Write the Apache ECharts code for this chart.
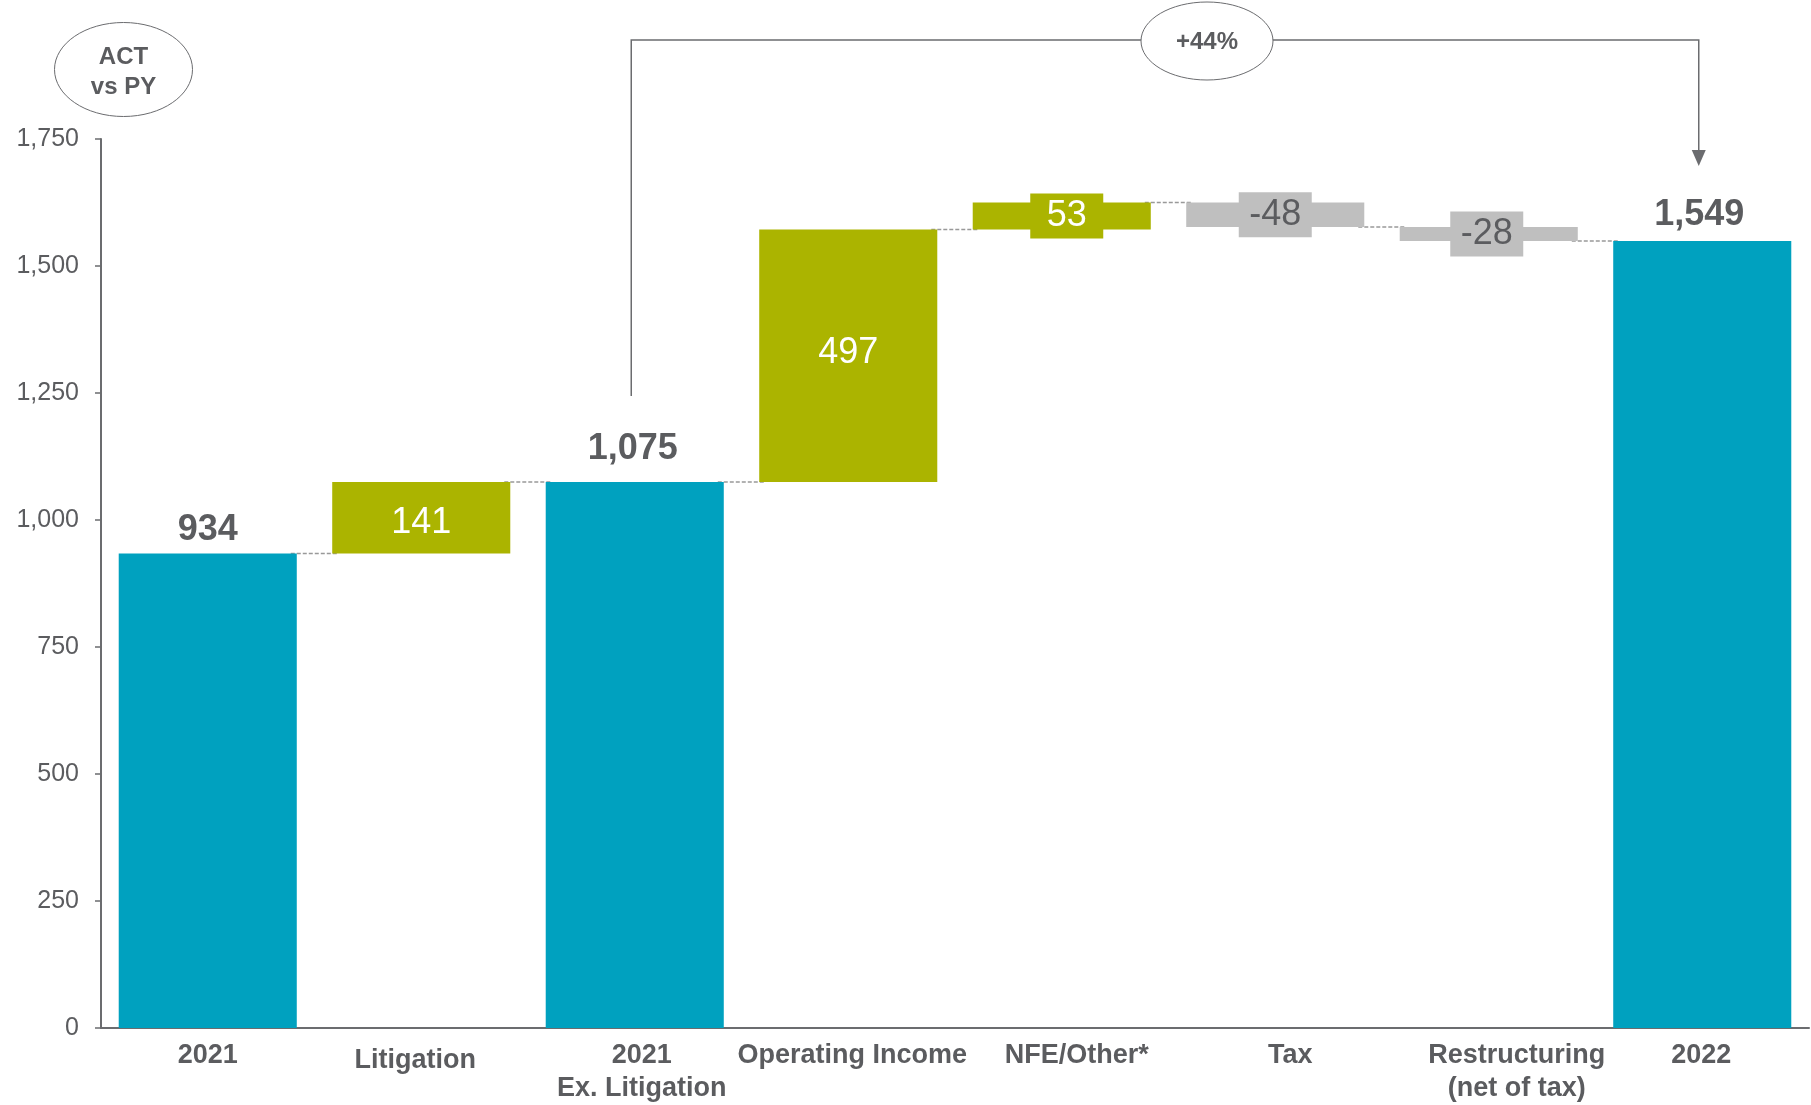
<!DOCTYPE html>
<html>
<head>
<meta charset="utf-8">
<script src="https://cdn.jsdelivr.net/npm/echarts@6/dist/echarts.min.js"></script>
<style>
html,body{margin:0;padding:0;background:#fff;}
#chart{width:1811px;height:1105px;}
</style>
</head>
<body>
<div id="chart"></div>
<script>
// ---- data ----
const categories = ['2021', 'Litigation', '2021\nEx. Litigation', 'Operating Income', 'NFE/Other*', 'Tax', 'Restructuring\n(net of tax)', '2022'];
const values = [934, 141, 1075, 497, 53, -48, -28, 1549];
const isTotal = [true, false, true, false, false, false, false, true];
const yMin = 0, yMax = 1750, yStep = 250;
const bracketFrom = 2, bracketTo = 7;

// ---- styles ----
const TEAL = '#00a1bf', OLIVE = '#abb400', GREY = '#bfbfbf', TXT = '#5b5c5f', AXIS = '#6b6c6f';
const FONT = '"Liberation Sans", Arial, sans-serif';
const BAR_RATIO = 0.834;
// small horizontal / vertical nudges of category labels (pixels), as in the reference layout
const catLabelNudgeX = [0, -6, 7, 4, 15, 15, 28, -1];
const catLabelNudgeY = [0, 5, 0, 0, 0, 0, 0, 0];
const valueLabelOffset = {1: [0, 5], 3: [0, -3], 4: [5, 0], 6: [-2, 0], 7: [-3, 0], 2: [-2, 0]};
const totalDist = {0: 5, 2: 15, 7: 8};

// build waterfall stacks
const base = [], height = [], levels = [];
let running = 0;
values.forEach((v, i) => {
  if (isTotal[i]) { running = v; base.push(0); height.push(v); }
  else if (v >= 0) { base.push(running); height.push(v); running += v; }
  else { running += v; base.push(running); height.push(-v); }
  levels.push(running);
});

const fmt = n => n.toLocaleString('en-US');

const valueData = height.map((h, i) => {
  const v = values[i];
  const color = isTotal[i] ? TEAL : (v >= 0 ? OLIVE : GREY);
  let label;
  if (isTotal[i]) {
    label = {show: true, position: 'top', distance: totalDist[i], color: TXT, fontWeight: 'bold', fontSize: 36, lineHeight: 36, fontFamily: FONT};
  } else if (Math.abs(v) >= 100) {
    label = {show: true, position: 'inside', color: '#fff', fontSize: 36, fontFamily: FONT};
  } else {
    label = {show: true, position: 'inside', color: v >= 0 ? '#fff' : TXT, fontSize: 36, lineHeight: 36,
      fontFamily: FONT, backgroundColor: color, width: 73, align: 'center', padding: [5, 0, 4, 0]};
  }
  if (valueLabelOffset[i]) label.offset = valueLabelOffset[i];
  return {value: h, itemStyle: {color}, label};
});

const connectorData = levels.slice(0, -1).map((lv, i) => [i, lv]);

const rich = {};
categories.forEach((c, i) => {
  const dx = catLabelNudgeX[i];
  rich['s' + i] = {
    color: TXT, fontWeight: 'bold', fontSize: 27, fontFamily: FONT,
    lineHeight: 33 + 2 * catLabelNudgeY[i],
    padding: dx >= 0 ? [0, 0, 0, 2 * dx] : [0, -2 * dx, 0, 0]
  };
});

const chart = echarts.init(document.getElementById('chart'), null, {renderer: 'canvas'});
const growth = Math.round((values[bracketTo] / values[bracketFrom] - 1) * 100);

chart.setOption({
  animation: false,
  backgroundColor: '#fff',
  grid: {left: 101, right: 2, top: 139, bottom: 77, containLabel: false, outerBoundsMode: 'none'},
  xAxis: {
    type: 'category', data: categories,
    axisLine: {lineStyle: {color: AXIS, width: 2}},
    axisTick: {show: false},
    axisLabel: {
      color: TXT, fontWeight: 'bold', fontSize: 27, lineHeight: 33, fontFamily: FONT, margin: 11, interval: 0,
      formatter: (val, idx) => val.split('\n').map(s => '{s' + idx + '|' + s + '}').join('\n'),
      rich
    }
  },
  yAxis: {
    type: 'value', min: yMin, max: yMax, interval: yStep,
    splitLine: {show: false},
    axisLine: {show: true, lineStyle: {color: AXIS, width: 2}},
    axisTick: {show: true, length: 6, lineStyle: {color: AXIS, width: 1.5}},
    axisLabel: {color: TXT, fontSize: 25, fontFamily: FONT, margin: 22, formatter: v => fmt(v)}
  },
  series: [
    {
      type: 'custom', z: 1, silent: true,
      data: connectorData,
      renderItem: (params, api) => {
        const p = api.coord([api.value(0), api.value(1)]);
        const bw = api.size([1, 0])[0];
        const half = bw * BAR_RATIO / 2;
        return {
          type: 'line',
          shape: {x1: p[0] + half - 6, y1: p[1], x2: p[0] + bw - half + 6, y2: p[1]},
          style: {stroke: '#999999', lineWidth: 1.5, lineDash: [4, 2]}
        };
      }
    },
    {
      type: 'bar', stack: 'wf', barWidth: (BAR_RATIO * 100) + '%', z: 2, silent: true,
      itemStyle: {color: 'transparent'},
      data: base
    },
    {
      type: 'bar', stack: 'wf', barWidth: (BAR_RATIO * 100) + '%', z: 3, silent: true,
      data: valueData,
      label: {show: true, formatter: p => fmt(values[p.dataIndex])}
    },
    {
      type: 'custom', z: 5, silent: true,
      data: [[bracketFrom, values[bracketFrom], bracketTo, values[bracketTo]]],
      renderItem: (params, api) => {
        const a = api.coord([api.value(0), api.value(1)]);
        const b = api.coord([api.value(2), api.value(3)]);
        const ax = a[0] - 3.5, bx = b[0] - 3.5;
        const topY = 40;
        const leftBottom = a[1] - 86;
        const tip = b[1] - 75;
        return {
          type: 'group',
          children: [
            {type: 'polyline', shape: {points: [[ax, leftBottom], [ax, topY], [bx, topY], [bx, tip - 14]]},
              style: {stroke: AXIS, lineWidth: 1.5, fill: null}},
            {type: 'polygon', shape: {points: [[bx - 7, tip - 16], [bx + 7, tip - 16], [bx, tip]]},
              style: {fill: AXIS}}
          ]
        };
      }
    }
  ],
  graphic: [
    {type: 'ellipse', z: 100, shape: {cx: 123.5, cy: 69.5, rx: 69, ry: 47}, style: {fill: '#fff', stroke: AXIS, lineWidth: 1}},
    {type: 'text', z: 101, x: 123.5, y: 72, style: {text: 'ACT\nvs PY', fill: TXT, font: 'bold 24px ' + FONT, lineHeight: 30, align: 'center', verticalAlign: 'middle'}},
    {type: 'ellipse', z: 100, shape: {cx: 1207, cy: 41, rx: 66, ry: 39}, style: {fill: '#fff', stroke: AXIS, lineWidth: 1}},
    {type: 'text', z: 101, x: 1207, y: 42, style: {text: '+' + growth + '%', fill: TXT, font: 'bold 24px ' + FONT, align: 'center', verticalAlign: 'middle'}}
  ]
});
</script>
</body>
</html>
